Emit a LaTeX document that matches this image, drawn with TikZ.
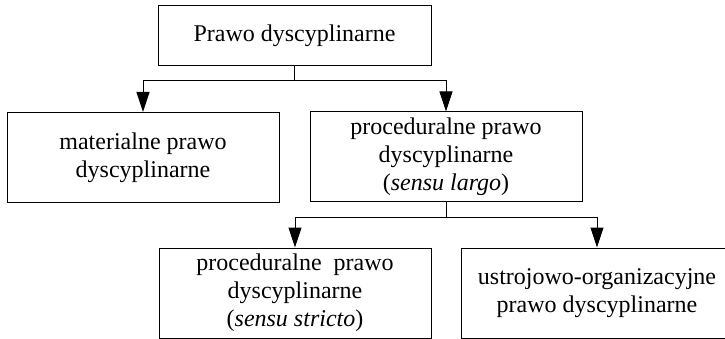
\documentclass[tikz,border=0pt]{standalone}
\usepackage{fontspec}
\setmainfont{Liberation Serif}
\usetikzlibrary{arrows.meta}
\begin{document}
\begin{tikzpicture}[x=1pt,y=-1pt,
  box/.style={draw, line width=1pt, minimum width=272pt, minimum height=90pt, inner sep=0pt, align=center, font=\fontsize{24}{28}\selectfont},
  link/.style={line width=1pt},
  arr/.style={line width=1pt, -{Triangle[length=20pt,width=13pt]}}]
\useasboundingbox (0,0) rectangle (725,339);
\node[box, minimum width=273pt, minimum height=60pt] (top) at (294.5,36) {Prawo dyscyplinarne};
\node[box] (mat) at (143,157.5) {materialne prawo\\dyscyplinarne};
\node[box] (proc) at (446,157) {proceduralne prawo\\dyscyplinarne\\(\textit{sensu largo})};
\node[box] (bl) at (295,293) {proceduralne\ \ prawo\\dyscyplinarne\\(\textit{sensu stricto})};
\node[box] (br) at (597,293) {ustrojowo-organizacyjne\\prawo dyscyplinarne};
\coordinate (j1) at (294.5,81);
\draw[link] (top.south) -- (j1);
\draw[arr] (j1) -| (mat.north);
\draw[arr] (j1) -| (proc.north);
\coordinate (j2) at (446,217);
\draw[link] (proc.south) -- (j2);
\draw[arr] (j2) -| (bl.north);
\draw[arr] (j2) -| (br.north);
\end{tikzpicture}
\end{document}
